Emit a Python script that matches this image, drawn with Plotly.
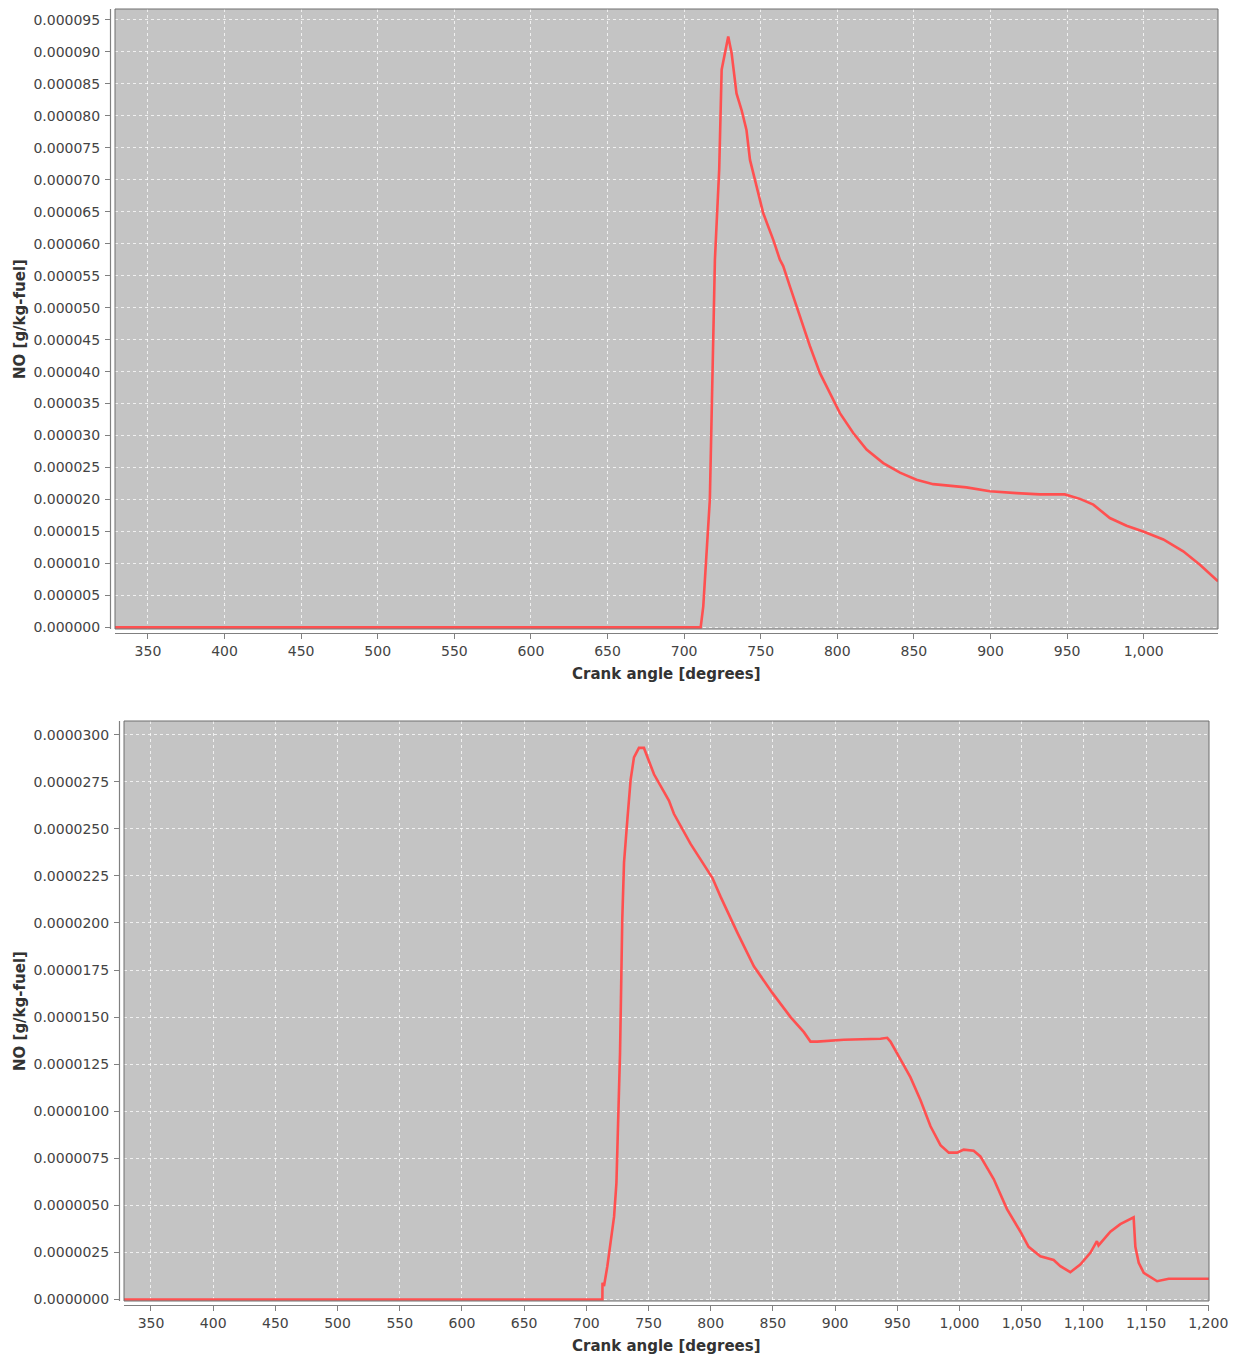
import plotly.graph_objects as go

# ---------------- data ----------------
top_angle = [328, 700, 710.8, 712.5, 714.7, 716.8, 717.9, 719.0, 720.1, 722.9, 724.5,
             728.8, 731.0, 734.2, 737.5, 740.7, 743.0, 748.4, 751.6, 754.9, 758.2,
             762.5, 764.7, 769.1, 771.2, 776.7, 782.1, 788.6, 795.2, 801.7, 810.4,
             819.1, 830.0, 840.9, 851.7, 862.6, 884.3, 899.6, 917.0, 932.2, 948.5,
             958.4, 967.1, 977.9, 988.8, 999.7, 1012.8, 1025.8, 1036.7, 1048.5]
top_no = [0, 0, 0, 0.33e-5, 1.17e-5, 2.0e-5, 3.25e-5, 4.81e-5, 5.75e-5, 7.16e-5, 8.72e-5,
          9.24e-5, 8.98e-5, 8.35e-5, 8.09e-5, 7.78e-5, 7.31e-5, 6.79e-5, 6.48e-5, 6.27e-5, 6.06e-5,
          5.75e-5, 5.65e-5, 5.33e-5, 5.18e-5, 4.78e-5, 4.40e-5, 3.98e-5, 3.67e-5, 3.35e-5, 3.04e-5,
          2.78e-5, 2.57e-5, 2.42e-5, 2.31e-5, 2.24e-5, 2.19e-5, 2.13e-5, 2.10e-5, 2.08e-5, 2.08e-5,
          2.01e-5, 1.92e-5, 1.71e-5, 1.59e-5, 1.50e-5, 1.375e-5, 1.19e-5, 0.98e-5, 0.72e-5]

bot_angle = [328, 712.9, 713.0, 714.2, 716.9, 719.6, 722.3, 724.2, 725.0, 727.1, 728.9,
             730.3, 733.0, 735.6, 738.3, 742.3, 746.3, 749.0, 754.4, 766.4, 770.4,
             783.8, 801.3, 807.9, 821.3, 834.7, 849.4, 864.2, 874.9, 880.2, 885.6,
             907.0, 936.5, 941.9, 944.5, 953.9, 960.6, 968.6, 976.7, 984.7, 991.4,
             998.1, 1003.4, 1011.4, 1016.8, 1027.5, 1038.2, 1049.0, 1055.6, 1065.0, 1075.7,
             1081.1, 1089.1, 1097.1, 1105.2, 1110.5, 1111.8, 1121.3, 1129.3, 1140.0, 1141.4,
             1144.1, 1148.1, 1158.9, 1168.2, 1201.0]
bot_no_e6 = [0, 0, 0.89, 0.71, 1.77, 3.0, 4.4, 6.2, 8.0, 13.1, 20.2,
             23.2, 25.5, 27.6, 28.8, 29.3, 29.3, 28.8, 27.9, 26.5, 25.8,
             24.2, 22.4, 21.4, 19.5, 17.7, 16.3, 15.0, 14.2, 13.7, 13.7,
             13.8, 13.85, 13.9, 13.7, 12.6, 11.8, 10.6, 9.2, 8.2, 7.8,
             7.8, 7.96, 7.9, 7.6, 6.4, 4.8, 3.6, 2.8, 2.3, 2.1,
             1.77, 1.45, 1.86, 2.48, 3.1, 2.87, 3.6, 4.0, 4.37, 2.8,
             1.95, 1.42, 0.97, 1.1, 1.1]
bot_no = [v * 1e-6 for v in bot_no_e6]

x_title = "Crank angle [degrees]"
y_title = "NO [g/kg-fuel]"

# ---------------- layout geometry ----------------
W, H = 1236, 1358
def px(x):
    return x / W
def py(y):
    return 1 - y / H

# plot rectangles in pixels (left, top, right, bottom)
P1 = (115, 9, 1218, 629)
P2 = (124, 721, 1209, 1301)
GAP = 4.5

LINE = "#ff5050"
BG = "#c4c4c4"
TICKC = "#808080"
FONT = "DejaVu Sans"

fig = go.Figure()
fig.add_trace(go.Scatter(x=top_angle, y=top_no, mode="lines",
                         line=dict(color=LINE, width=2.6), xaxis="x", yaxis="y",
                         showlegend=False, hoverinfo="skip"))
fig.add_trace(go.Scatter(x=bot_angle, y=bot_no, mode="lines",
                         line=dict(color=LINE, width=2.6), xaxis="x2", yaxis="y2",
                         showlegend=False, hoverinfo="skip"))

axcommon = dict(
    automargin=False,
    showline=False, zeroline=False, ticks="outside", ticklen=9, tickwidth=1,
    tickcolor=TICKC, showgrid=True, gridcolor="rgba(255,255,255,0.75)",
    gridwidth=1, griddash="3px,3px",
    tickfont=dict(family=FONT, size=14, color="#444444"),
)
xcommon = dict(ticklabelstandoff=0, tick0=350, dtick=50, tickformat=",d", **axcommon)
ycommon = dict(ticklabelstandoff=2, tick0=0, **axcommon)

fig.update_layout(
    width=W, height=H,
    margin=dict(l=0, r=0, t=0, b=0, pad=0, autoexpand=False),
    paper_bgcolor="white", plot_bgcolor=BG,
    xaxis=dict(domain=[px(P1[0]), px(P1[2])], anchor="y", range=[328.5, 1048.5], **xcommon),
    yaxis=dict(domain=[py(P1[3]), py(P1[1])], anchor="x", range=[-2.5e-7, 9.67e-5],
               dtick=5e-6, tickformat=".6f", **ycommon),
    xaxis2=dict(domain=[px(P2[0]), px(P2[2])], anchor="y2", range=[328.3, 1200.6], **xcommon),
    yaxis2=dict(domain=[py(P2[3]), py(P2[1])], anchor="x2", range=[-8e-8, 3.073e-5],
                dtick=2.5e-6, tickformat=".7f", **ycommon),
)

shapes = []
annotations = []
for (l, t, r, b), xt_y, yt_x in [(P1, 674, 20), (P2, 1346, 20)]:
    # white gaps between frame and offset axis lines (cover inner part of ticks)
    shapes.append(dict(type="rect", xref="paper", yref="paper", layer="above",
                       x0=px(l - GAP), x1=px(l - 0.5), y0=py(b), y1=py(t),
                       fillcolor="white", line=dict(width=0)))
    shapes.append(dict(type="rect", xref="paper", yref="paper", layer="above",
                       x0=px(l), x1=px(r), y0=py(b + GAP), y1=py(b + 0.5),
                       fillcolor="white", line=dict(width=0)))
    # plot frame
    shapes.append(dict(type="rect", xref="paper", yref="paper", layer="above",
                       x0=px(l), x1=px(r), y0=py(b), y1=py(t),
                       line=dict(color="#6e6e6e", width=1)))
    # offset axis lines
    shapes.append(dict(type="line", xref="paper", yref="paper", layer="above",
                       x0=px(l - GAP), x1=px(l - GAP), y0=py(b), y1=py(t),
                       line=dict(color=TICKC, width=1.2)))
    shapes.append(dict(type="line", xref="paper", yref="paper", layer="above",
                       x0=px(l), x1=px(r), y0=py(b + GAP), y1=py(b + GAP),
                       line=dict(color=TICKC, width=1.2)))
    # axis titles
    annotations.append(dict(text="<b>" + x_title + "</b>", xref="paper", yref="paper",
                            x=px((l + r) / 2), y=py(xt_y), showarrow=False,
                            xanchor="center", yanchor="middle",
                            font=dict(family=FONT, size=15, color="#333333")))
    annotations.append(dict(text="<b>" + y_title + "</b>", xref="paper", yref="paper",
                            x=px(yt_x), y=py((t + b) / 2), showarrow=False, textangle=-90,
                            xanchor="center", yanchor="middle",
                            font=dict(family=FONT, size=15, color="#333333")))

fig.update_layout(shapes=shapes, annotations=annotations)

post = "document.body.style.margin='0';document.body.style.overflow='hidden';"
fig.write_html("out.html", config={"displayModeBar": False}, post_script=post)
